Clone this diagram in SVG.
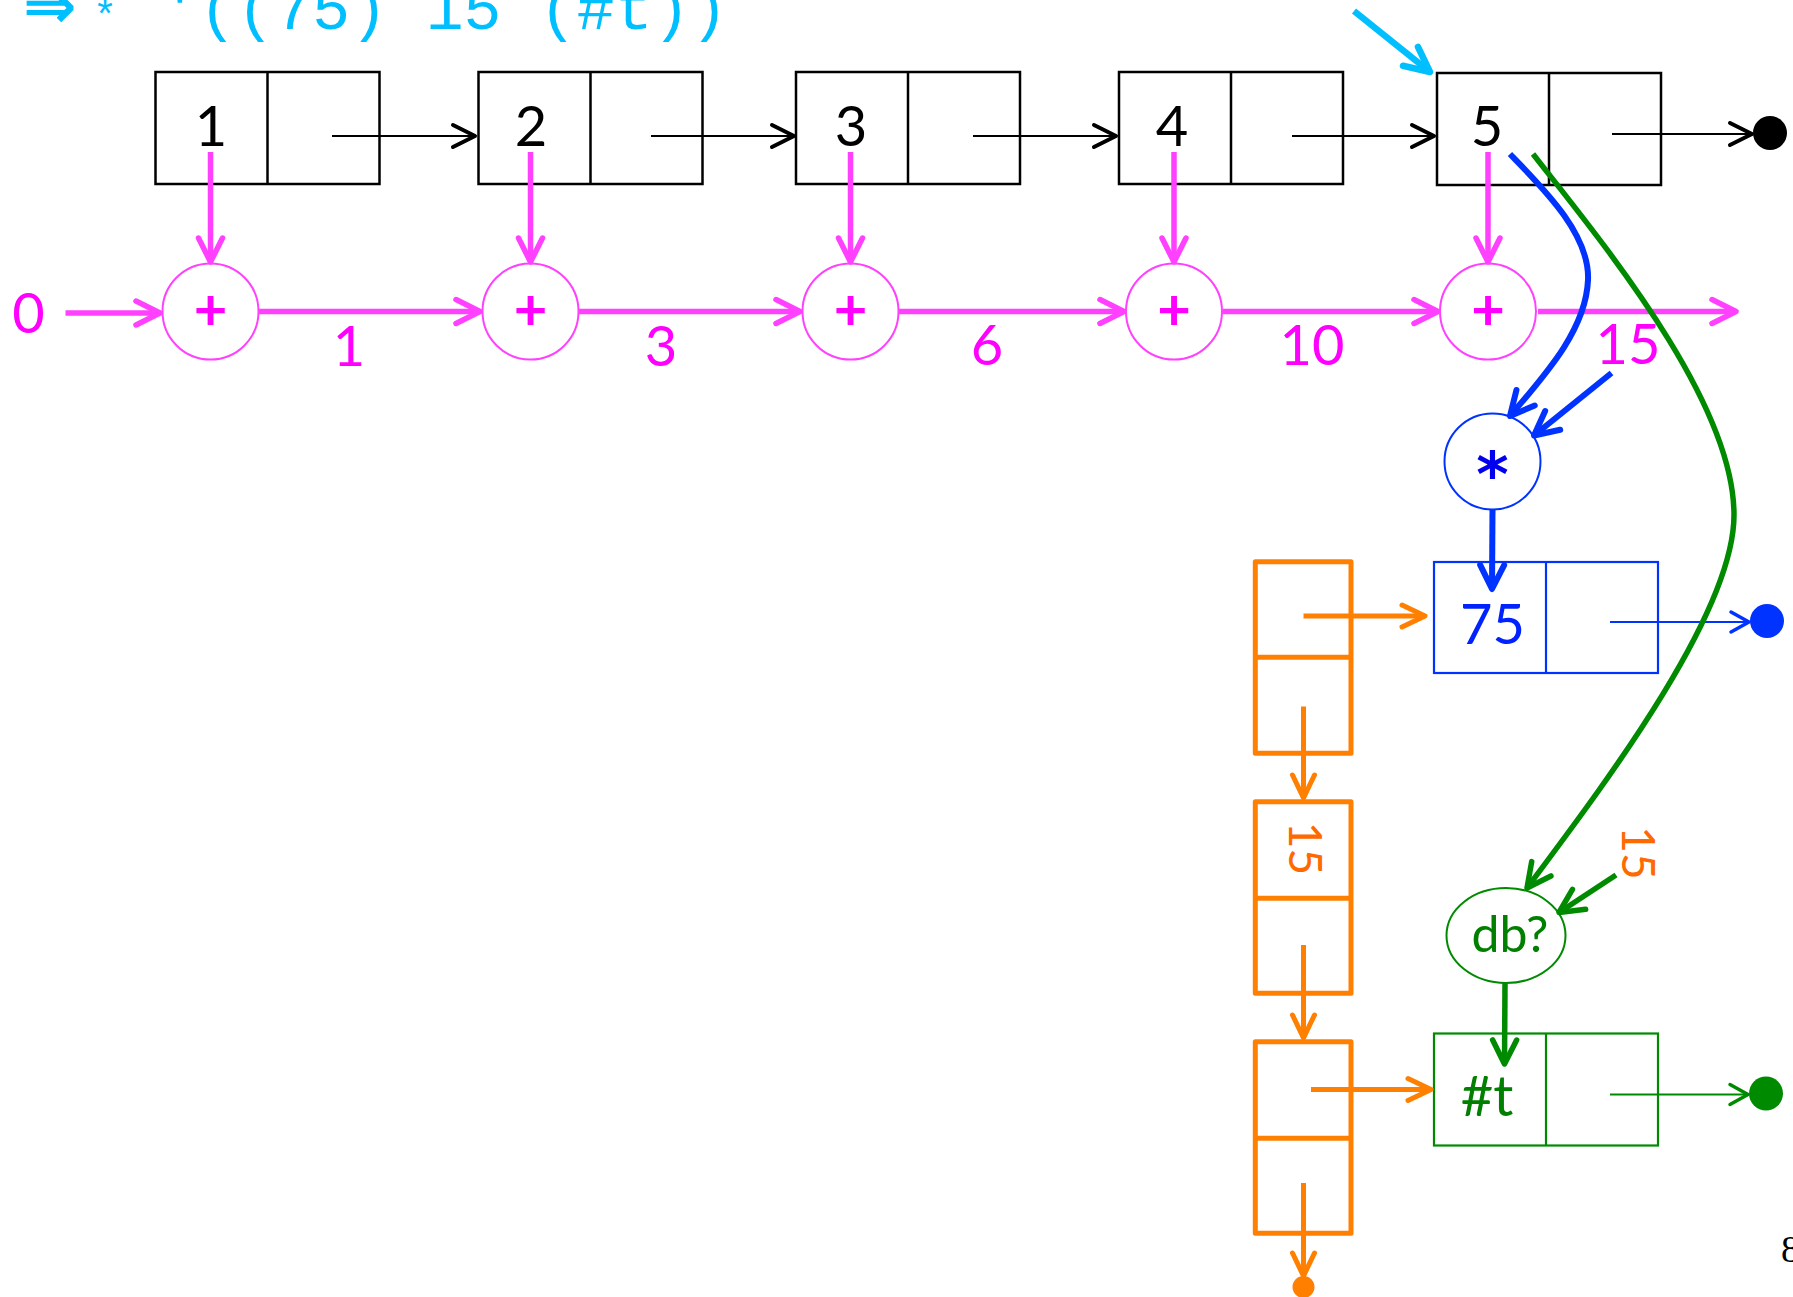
<svg xmlns="http://www.w3.org/2000/svg" width="1793" height="1297" viewBox="0 0 1793 1297">
<style>
  .num { font-family: Lato, "Liberation Sans", sans-serif; font-size: 56px; text-anchor: middle; }
  .blk { fill: #000; }
  .pk { fill: #FF00FF; }
  .box { fill: #fff; stroke: #000; stroke-width: 2.5; }
  .bl { stroke: #000; stroke-width: 2.5; }
  .pline { stroke: #FF40FF; stroke-width: 5.5; fill: none; }
  .pcirc { fill: #fff; stroke: #FF40FF; stroke-width: 2; }
  .plus { font-family: Lato, "Liberation Sans", sans-serif; font-size: 58px; font-weight: bold; fill: #FF00FF; text-anchor: middle; }
  .blkline { stroke: #000; stroke-width: 2; fill: none; }
  .orect { fill: none; stroke: #FF8000; stroke-width: 5; stroke-linejoin: round; }
  .oline { stroke: #FF8000; stroke-width: 5; fill: none; }
  .otxt { font-family: Lato, "Liberation Sans", sans-serif; font-size: 46px; fill: #FF6A00; text-anchor: middle; }
  .bline { stroke: #0033FF; stroke-width: 6; fill: none; }
  .bthin { stroke: #0033FF; stroke-width: 2; fill: none; }
  .gline { stroke: #008A00; stroke-width: 5.5; fill: none; }
  .gthin { stroke: #008A00; stroke-width: 2; fill: none; }
</style>
<defs>
  <marker id="aBlack" markerUnits="userSpaceOnUse" orient="auto" refX="0" refY="0" overflow="visible">
    <path d="M-22,-11 L0,0 L-22,11" fill="none" stroke="#000" stroke-width="4" stroke-linecap="round" stroke-linejoin="round"/>
  </marker>
  <marker id="aPink" markerUnits="userSpaceOnUse" orient="auto" refX="0" refY="0" overflow="visible">
    <path d="M-24,-12 L0,0 L-24,12" fill="none" stroke="#FF40FF" stroke-width="5.5" stroke-linecap="round" stroke-linejoin="round"/>
  </marker>
  <marker id="aBlue" markerUnits="userSpaceOnUse" orient="auto" refX="0" refY="0" overflow="visible">
    <path d="M-24,-12 L0,0 L-24,12" fill="none" stroke="#0033FF" stroke-width="6" stroke-linecap="round" stroke-linejoin="round"/>
  </marker>
  <marker id="aBlueThin" markerUnits="userSpaceOnUse" orient="auto" refX="0" refY="0" overflow="visible">
    <path d="M-18,-10 L0,0 L-18,10" fill="none" stroke="#0033FF" stroke-width="3.5" stroke-linecap="round" stroke-linejoin="round"/>
  </marker>
  <marker id="aOrange" markerUnits="userSpaceOnUse" orient="auto" refX="0" refY="0" overflow="visible">
    <path d="M-23,-11 L0,0 L-23,11" fill="none" stroke="#FF8000" stroke-width="5" stroke-linecap="round" stroke-linejoin="round"/>
  </marker>
  <marker id="aGreen" markerUnits="userSpaceOnUse" orient="auto" refX="0" refY="0" overflow="visible">
    <path d="M-24,-12 L0,0 L-24,12" fill="none" stroke="#008A00" stroke-width="5.5" stroke-linecap="round" stroke-linejoin="round"/>
  </marker>
  <marker id="aGreenThin" markerUnits="userSpaceOnUse" orient="auto" refX="0" refY="0" overflow="visible">
    <path d="M-18,-10 L0,0 L-18,10" fill="none" stroke="#008A00" stroke-width="3.5" stroke-linecap="round" stroke-linejoin="round"/>
  </marker>
  <marker id="aCyan" markerUnits="userSpaceOnUse" orient="auto" refX="0" refY="0" overflow="visible">
    <path d="M-25,-12 L0,0 L-25,12" fill="none" stroke="#00BFFF" stroke-width="6.5" stroke-linecap="round" stroke-linejoin="round"/>
  </marker>
</defs>
<rect width="1793" height="1297" fill="#fff"/>

<g id="title">
  <text x="23" y="28" font-family="DejaVu Sans, sans-serif" font-weight="bold" font-size="64" fill="#00BFFF">⇒</text>
  <text x="93" y="29" font-family="Liberation Mono, monospace" font-size="40" fill="#00BFFF">*</text>
  <text x="161" y="29" font-family="Liberation Mono, monospace" font-size="63" fill="#00BFFF">'((75) 15 (#t))</text>
</g>

<g id="cell1"><rect class="box" x="155.5" y="72" width="224" height="112"/><line class="bl" x1="267.5" y1="72" x2="267.5" y2="184"/><text class="num blk" x="211" y="146">1</text></g>
<g id="cell2"><rect class="box" x="478.5" y="72" width="224" height="112"/><line class="bl" x1="590.5" y1="72" x2="590.5" y2="184"/><text class="num blk" x="531" y="146">2</text></g>
<g id="cell3"><rect class="box" x="796" y="72" width="224" height="112"/><line class="bl" x1="908" y1="72" x2="908" y2="184"/><text class="num blk" x="851" y="146">3</text></g>
<g id="cell4"><rect class="box" x="1119" y="72" width="224" height="112"/><line class="bl" x1="1231" y1="72" x2="1231" y2="184"/><text class="num blk" x="1172" y="146">4</text></g>
<g id="cell5"><rect class="box" x="1437" y="73" width="224" height="112"/><line class="bl" x1="1549" y1="73" x2="1549" y2="185"/><text class="num blk" x="1487" y="146">5</text></g>
<g id="nil1"><circle cx="1770" cy="133" r="17" fill="#000"/></g>

<g id="plus1"><circle class="pcirc" cx="210.5" cy="311.5" r="48"/><text class="plus" x="210.5" y="330">+</text></g>
<g id="plus2"><circle class="pcirc" cx="530.5" cy="311.5" r="48"/><text class="plus" x="530.5" y="330">+</text></g>
<g id="plus3"><circle class="pcirc" cx="850.5" cy="311.5" r="48"/><text class="plus" x="850.5" y="330">+</text></g>
<g id="plus4"><circle class="pcirc" cx="1174" cy="311.5" r="48"/><text class="plus" x="1174" y="330">+</text></g>
<g id="plus5"><circle class="pcirc" cx="1488" cy="311.5" r="48"/><text class="plus" x="1488" y="330">+</text></g>

<g id="times"><circle cx="1492.5" cy="461.5" r="48" fill="#fff" stroke="#0033FF" stroke-width="2"/><text x="1492.5" y="496" font-family="DejaVu Sans, sans-serif" font-size="62" font-weight="bold" fill="#0000EE" text-anchor="middle">*</text></g>

<g id="cell75"><rect x="1434" y="562" width="224" height="111" fill="#fff" stroke="#0033FF" stroke-width="2.2"/><line x1="1546" y1="562" x2="1546" y2="673" stroke="#0033FF" stroke-width="2.2"/><text class="num" x="1492.5" y="644" fill="#0022FF">75</text></g>
<g id="nil2"><circle cx="1767" cy="621" r="17" fill="#0033FF"/></g>

<g id="dbq"><ellipse cx="1506" cy="935.5" rx="59.5" ry="47.5" fill="#fff" stroke="#008A00" stroke-width="2"/><text x="1510" y="952" font-family="Lato, 'Liberation Sans', sans-serif" font-size="50" fill="#007F00" text-anchor="middle">db?</text></g>

<g id="cellT"><rect x="1434" y="1033.5" width="224" height="112" fill="#fff" stroke="#008A00" stroke-width="2.2"/><line x1="1546" y1="1033.5" x2="1546" y2="1145.5" stroke="#008A00" stroke-width="2.2"/><text class="num" x="1487" y="1116" fill="#007F00">#t</text></g>
<g id="nil3"><circle cx="1766" cy="1093.5" r="17" fill="#008A00"/></g>

<g id="ocell1"><rect class="orect" x="1255.3" y="561.7" width="95.7" height="191.6"/><line class="oline" x1="1255.3" y1="657.3" x2="1351" y2="657.3"/></g>
<g id="ocell2"><rect class="orect" x="1255.3" y="801.7" width="95.7" height="191.6"/><line class="oline" x1="1255.3" y1="898.3" x2="1351" y2="898.3"/><text class="otxt" transform="translate(1289,848.5) rotate(90)" x="0" y="0">15</text></g>
<g id="ocell3"><rect class="orect" x="1255.3" y="1041.7" width="95.7" height="191.6"/><line class="oline" x1="1255.3" y1="1138.3" x2="1351" y2="1138.3"/></g>
<g id="nil4"><circle cx="1303.5" cy="1287" r="11" fill="#FF8000"/></g>

<g id="labels">
  <text class="num pk" x="28.5" y="333">0</text>
  <text class="num pk" x="349" y="366">1</text>
  <text class="num pk" x="661" y="366">3</text>
  <text class="num pk" x="987" y="365">6</text>
  <text class="num pk" x="1312" y="365">10</text>
  <text class="num pk" x="1628" y="364">15</text>
  <text class="otxt" transform="translate(1622,853) rotate(90)" x="0" y="0">15</text>
  <text x="1781" y="1262" font-family="Liberation Serif, serif" font-size="38" fill="#000">8</text>
</g>

<g id="connectors">
  <line x1="1354" y1="11" x2="1430" y2="72" stroke="#00BFFF" stroke-width="6.5" marker-end="url(#aCyan)"/>

  <line class="blkline" x1="332" y1="136" x2="475" y2="136" marker-end="url(#aBlack)"/>
  <line class="blkline" x1="651" y1="136" x2="794" y2="136" marker-end="url(#aBlack)"/>
  <line class="blkline" x1="973" y1="136" x2="1116" y2="136" marker-end="url(#aBlack)"/>
  <line class="blkline" x1="1292" y1="136" x2="1434" y2="136" marker-end="url(#aBlack)"/>
  <line class="blkline" x1="1612" y1="134" x2="1752" y2="134" marker-end="url(#aBlack)"/>

  <line class="pline" x1="210.5" y1="152" x2="210.5" y2="262" marker-end="url(#aPink)"/>
  <line class="pline" x1="530.5" y1="152" x2="530.5" y2="262" marker-end="url(#aPink)"/>
  <line class="pline" x1="850.5" y1="152" x2="850.5" y2="262" marker-end="url(#aPink)"/>
  <line class="pline" x1="1174" y1="152" x2="1174" y2="262" marker-end="url(#aPink)"/>
  <line class="pline" x1="1488" y1="152" x2="1488" y2="262" marker-end="url(#aPink)"/>

  <line class="pline" x1="65.5" y1="313" x2="160" y2="313" marker-end="url(#aPink)"/>
  <line class="pline" x1="259" y1="311.5" x2="480" y2="311.5" marker-end="url(#aPink)"/>
  <line class="pline" x1="579" y1="311.5" x2="800" y2="311.5" marker-end="url(#aPink)"/>
  <line class="pline" x1="899" y1="311.5" x2="1124" y2="311.5" marker-end="url(#aPink)"/>
  <line class="pline" x1="1223" y1="311.5" x2="1438" y2="311.5" marker-end="url(#aPink)"/>
  <line class="pline" x1="1538" y1="311.5" x2="1736" y2="311.5" marker-end="url(#aPink)"/>

  <path class="bline" d="M1510,154 C1545,190 1590,235 1588,280 C1586,330 1545,375 1510,416" marker-end="url(#aBlue)"/>
  <line class="bline" x1="1611.5" y1="373" x2="1534" y2="435.5" marker-end="url(#aBlue)"/>
  <line class="bline" x1="1492.5" y1="510" x2="1492" y2="589" marker-end="url(#aBlue)"/>
  <line class="bthin" x1="1610" y1="622" x2="1749" y2="622" marker-end="url(#aBlueThin)"/>

  <path class="gline" d="M1533,154 C1600,240 1734,400 1734,515 C1734,615 1600,790 1527,888" marker-end="url(#aGreen)"/>
  <line class="gline" x1="1616" y1="875" x2="1559" y2="912.5" marker-end="url(#aGreen)"/>
  <line class="gline" x1="1505" y1="983" x2="1504.5" y2="1064" marker-end="url(#aGreen)"/>
  <line class="gthin" x1="1610" y1="1094.5" x2="1748" y2="1094.5" marker-end="url(#aGreenThin)"/>

  <line class="oline" x1="1303.5" y1="616" x2="1425" y2="616" marker-end="url(#aOrange)"/>
  <line class="oline" x1="1303.5" y1="706.5" x2="1303.5" y2="798" marker-end="url(#aOrange)"/>
  <line class="oline" x1="1303.5" y1="945" x2="1303.5" y2="1038" marker-end="url(#aOrange)"/>
  <line class="oline" x1="1311" y1="1089.5" x2="1431" y2="1089.5" marker-end="url(#aOrange)"/>
  <line class="oline" x1="1303.5" y1="1183" x2="1303.5" y2="1276" marker-end="url(#aOrange)"/>
</g>
</svg>
